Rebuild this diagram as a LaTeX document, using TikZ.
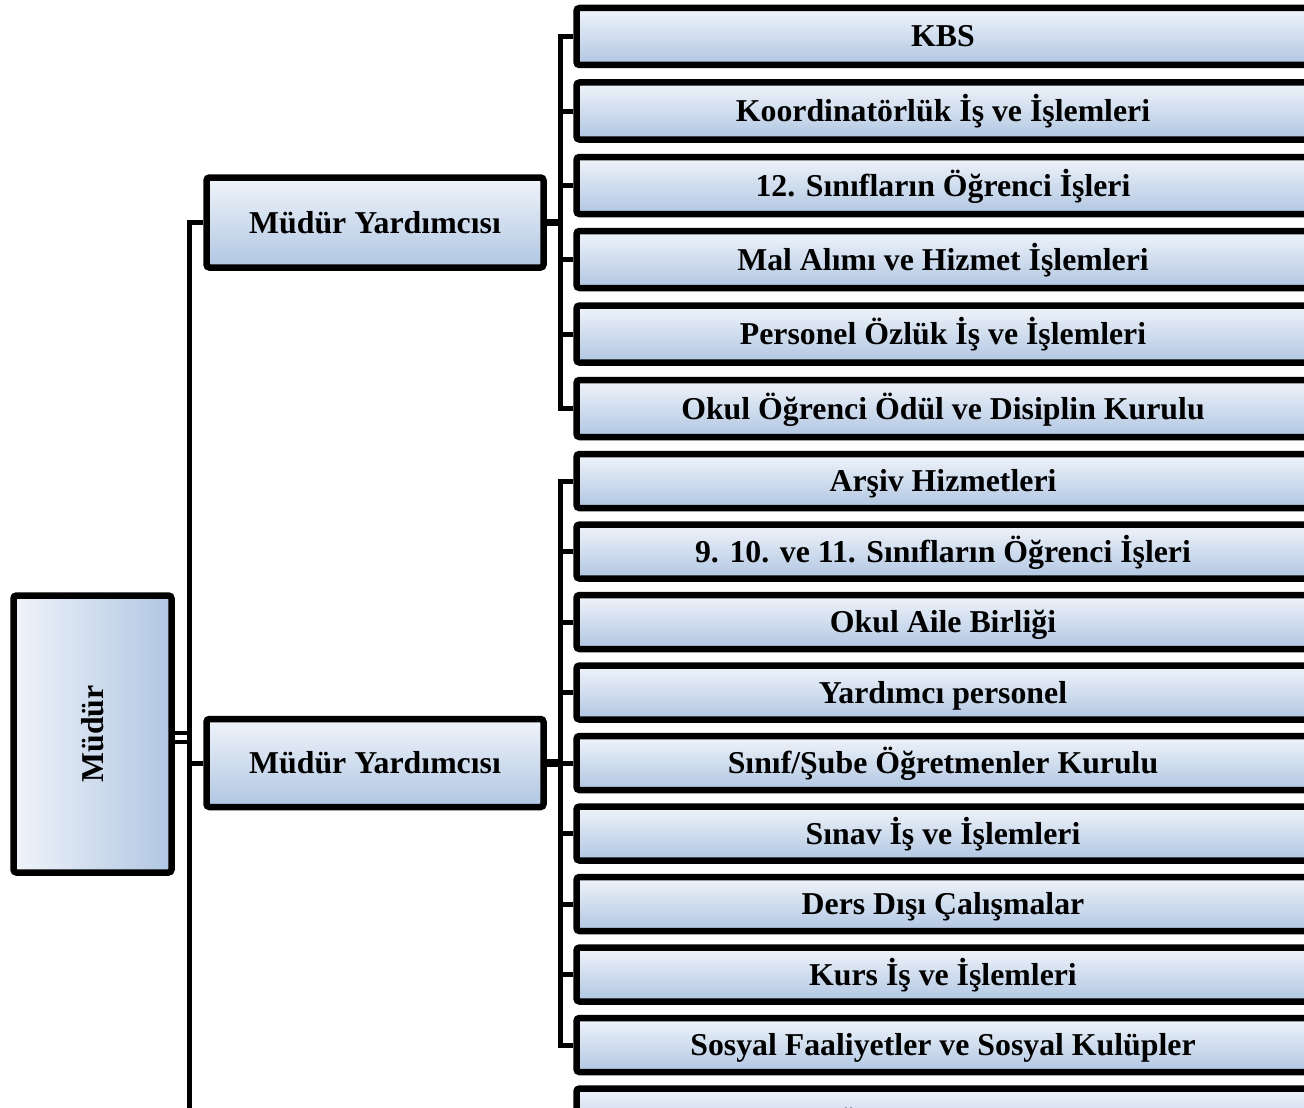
\documentclass[tikz,border=0pt]{standalone}
\usepackage{fontspec}
\setmainfont{Liberation Serif}
\begin{document}
\begin{tikzpicture}[x=1pt,y=-1pt]
\definecolor{boxlight}{RGB}{240,244,250}
\definecolor{boxdark}{RGB}{176,198,226}
\tikzset{
  box/.style={draw=black, line width=6.5pt, rounded corners=3pt, top color=boxlight, bottom color=boxdark,
    inner sep=0pt, text height=27pt, text depth=6pt,
    font=\fontsize{31.8}{38}\selectfont\bfseries, text=black},
  childbox/.style={box, minimum width=733pt},
  grpA/.style={childbox, minimum height=57pt},
  grpB/.style={childbox, minimum height=54pt},
  conn/.style={draw=black, line width=5pt},
  thickconn/.style={draw=black, line width=7.5pt},
}
\clip (0,0) rectangle (1304,1108);
\fill[white] (0,0) rectangle (1304,1108);

% Müdür
\node[box, left color=boxlight, right color=boxdark, rotate=90, minimum width=277pt, minimum height=158pt] (mudur) at (92.5,734) {Müdür};

% Müdür Yardımcıları
\node[box, minimum width=337pt, minimum height=90pt] (my1) at (375,222.5) {Müdür Yardımcısı};
\node[box, minimum width=337pt, minimum height=88pt] (my2) at (375,763) {Müdür Yardımcısı};

% group A children
\node[grpA] (a1) at (943,36.5) {KBS};
\node[grpA] (a2) at (943,111) {Koordinatörlük İş ve İşlemleri};
\node[grpA] (a3) at (943,185.5) {12. Sınıfların Öğrenci İşleri};
\node[grpA] (a4) at (943,259.5) {Mal Alımı ve Hizmet İşlemleri};
\node[grpA] (a5) at (943,334) {Personel Özlük İş ve İşlemleri};
\node[grpA] (a6) at (943,408.5) {Okul Öğrenci Ödül ve Disiplin Kurulu};

% group B children
\node[grpB] (b1) at (943,481) {Arşiv Hizmetleri};
\node[grpB] (b2) at (943,551.5) {9. 10. ve 11. Sınıfların Öğrenci İşleri};
\node[grpB] (b3) at (943,622) {Okul Aile Birliği};
\node[grpB] (b4) at (943,692.5) {Yardımcı personel};
\node[grpB] (b5) at (943,763) {Sınıf/Şube Öğretmenler Kurulu};
\node[grpB] (b6) at (943,833.5) {Sınav İş ve İşlemleri};
\node[grpB] (b7) at (943,904) {Ders Dışı Çalışmalar};
\node[grpB] (b8) at (943,974.5) {Kurs İş ve İşlemleri};
\node[grpB] (b9) at (943,1045) {Sosyal Faaliyetler ve Sosyal Kulüpler};
\node[grpB] (b10) at (943,1115.5) {\raisebox{-8pt}{Öğrenci Meclisi}};

% junctions
\coordinate (ja) at (560,222.5);
\coordinate (jb) at (560,763);
\coordinate (tb) at (189,1130);
\coordinate (m1) at ([yshift=1pt]mudur.south);
\coordinate (m2) at ([yshift=-8pt]mudur.south);

% connectors group A
\draw[thickconn] (my1.east) -- (ja);
\foreach \c in {a1,a2,a3,a4,a5,a6}{
  \draw[conn] (ja) |- (\c.west);
}
% connectors group B
\draw[thickconn] (my2.east) -- (jb);
\foreach \c in {b1,b2,b3,b4,b5,b6,b7,b8,b9}{
  \draw[conn] (jb) |- (\c.west);
}

% trunk
\draw[conn] (my1.west) -| (tb);
\draw[conn] (tb |- my2.west) -- (my2.west);
\draw[draw=black, line width=4.5pt] (m1) -- (tb |- m1);
\draw[draw=black, line width=4.5pt] (m2) -- (tb |- m2);
\end{tikzpicture}
\end{document}
